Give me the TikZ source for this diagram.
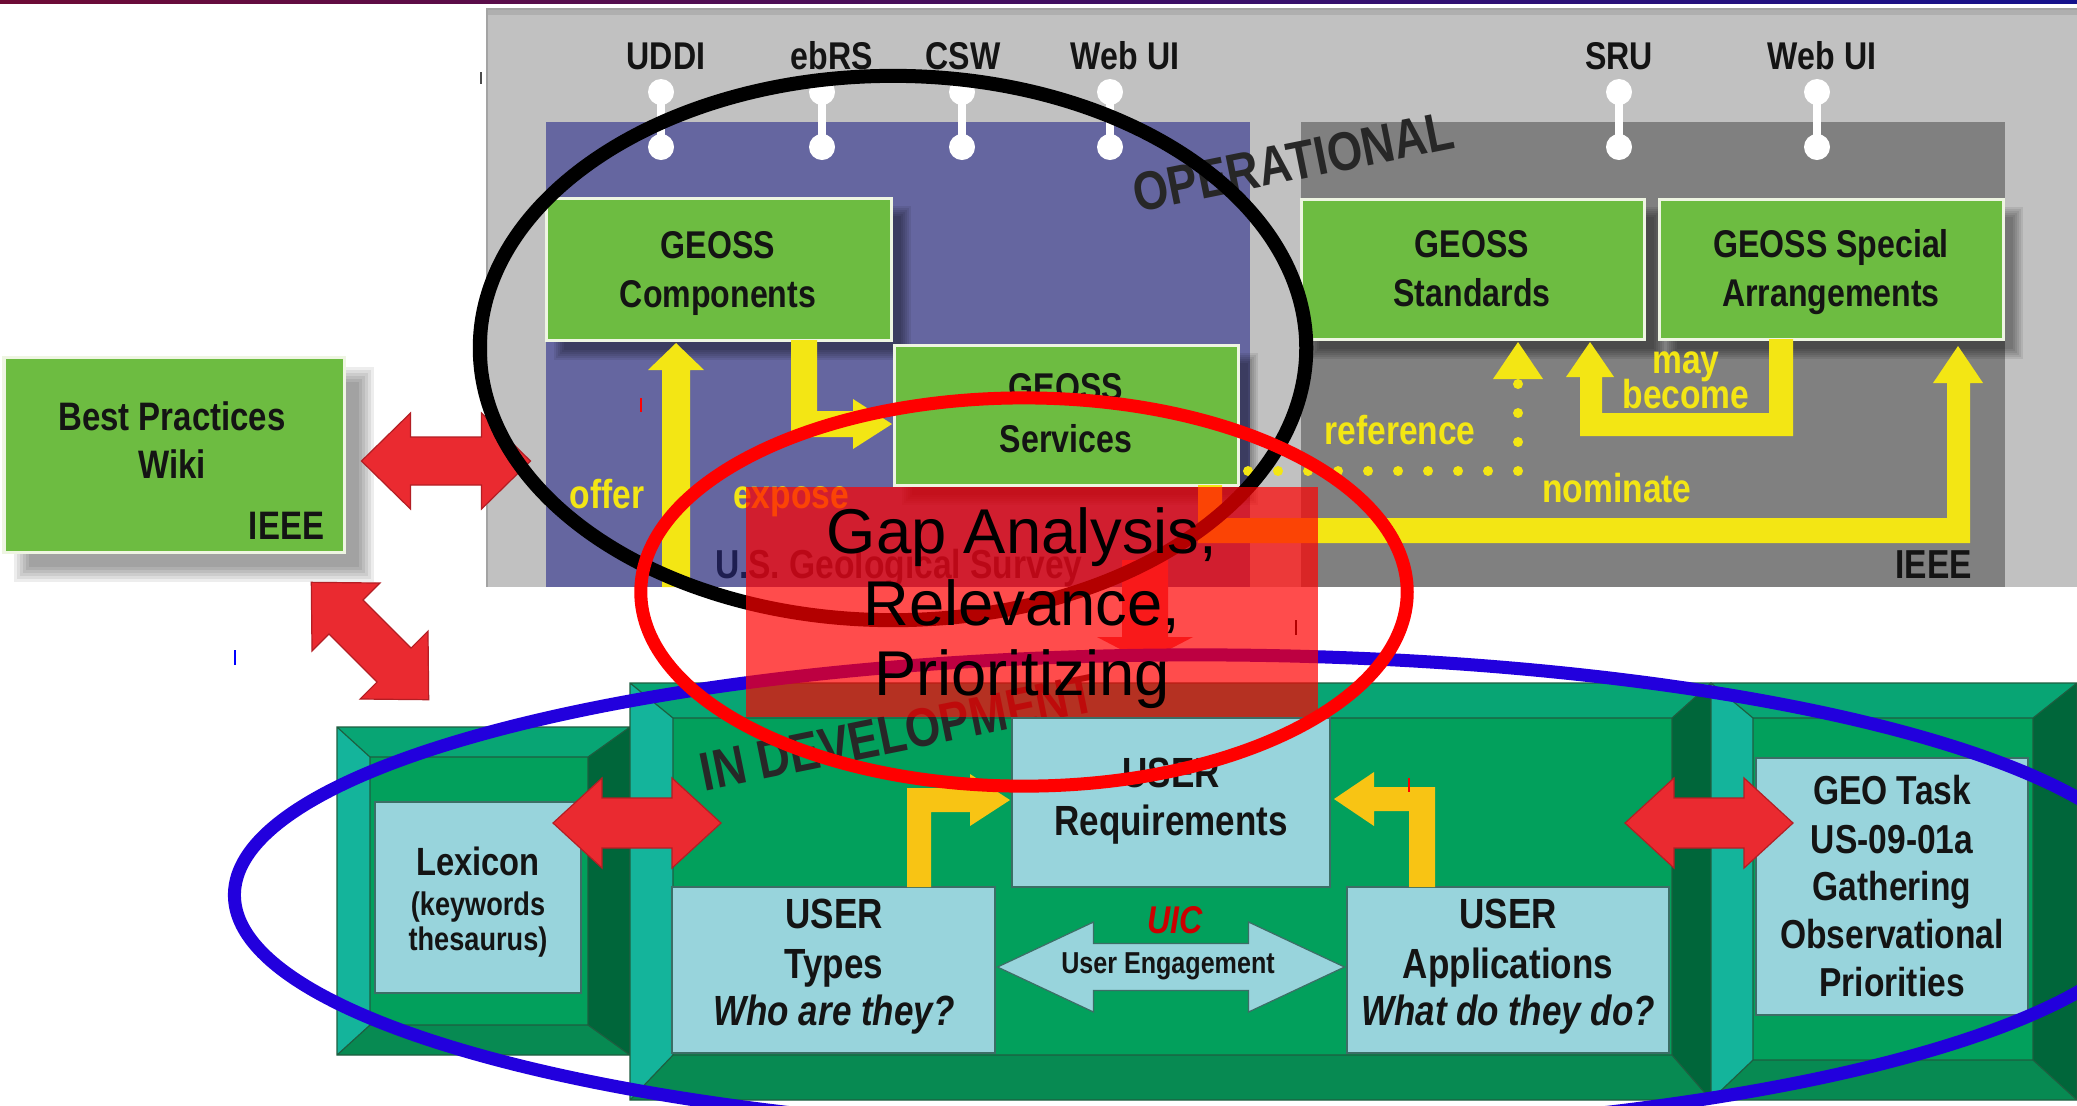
\documentclass[tikz,border=0pt]{standalone}
\usepackage{fontspec}
\setmainfont{Liberation Sans}
\newfontfamily\cnd[FakeStretch=0.83]{Liberation Sans}
\newcommand\fsz[1]{\fontsize{#1}{#1}\selectfont}
\definecolor{gry}{HTML}{C1C1C1}
\definecolor{gryline}{HTML}{A3A3A3}
\definecolor{purp}{HTML}{6566A0}
\definecolor{dgry}{HTML}{808080}
\definecolor{gbox}{HTML}{6DBC41}
\definecolor{gedge}{HTML}{EEF5E2}
\definecolor{yel}{HTML}{F3E614}
\definecolor{goldc}{HTML}{F8C414}
\definecolor{rarrow}{HTML}{EA2A30}
\definecolor{rline}{HTML}{B31E24}
\definecolor{lblue}{HTML}{98D4DC}
\definecolor{lbline}{HTML}{3C6E66}
\definecolor{tealc}{HTML}{14B49B}
\definecolor{gtop}{HTML}{08A574}
\definecolor{ginner}{HTML}{02A05C}
\definecolor{gdark}{HTML}{00663A}
\definecolor{gbot}{HTML}{078A52}
\definecolor{gline}{HTML}{1E5E40}
\definecolor{txt}{HTML}{141414}
\definecolor{navy}{HTML}{1E1E50}
\definecolor{blueell}{HTML}{2200DD}
\definecolor{barl}{HTML}{6E0B35}
\definecolor{barr}{HTML}{15118C}
\newcommand\softshadow[4]{\foreach \k in {0,...,5}{\fill[black,opacity=0.08] (#1+8+2*\k,#2+8+2*\k) rectangle (#3+20-2*\k,#4+20-2*\k);}}
\newcommand\greenbox[4]{\softshadow{#1}{#2}{#3}{#4}\filldraw[fill=gbox,draw=gedge,line width=0.03cm] (#1,#2) rectangle (#3,#4);}
% style, cx, cy, angle, L, head length, head half width, shaft half width
\newcommand\dblarr[8]{\filldraw[#1,shift={(#2,#3)},rotate=#4] (-#5/2,0) -- (-#5/2+#6,-#7) -- (-#5/2+#6,-#8) -- (#5/2-#6,-#8) -- (#5/2-#6,-#7) -- (#5/2,0) -- (#5/2-#6,#7) -- (#5/2-#6,#8) -- (-#5/2+#6,#8) -- (-#5/2+#6,#7) -- cycle;}
% x1 y1 x2 y2 l t r b
\newcommand\bevelblock[8]{%
\fill[ginner] (#1,#2) rectangle (#3,#4);
\fill[gtop] (#1,#2) -- (#3,#2) -- (#3-#7,#2+#6) -- (#1+#5,#2+#6) -- cycle;
\fill[gbot] (#1,#4) -- (#3,#4) -- (#3-#7,#4-#8) -- (#1+#5,#4-#8) -- cycle;
\fill[tealc] (#1,#2) -- (#1+#5,#2+#6) -- (#1+#5,#4-#8) -- (#1,#4) -- cycle;
\fill[gdark] (#3,#2) -- (#3-#7,#2+#6) -- (#3-#7,#4-#8) -- (#3,#4) -- cycle;
\draw[gline,line width=0.012cm] (#1,#2) rectangle (#3,#4) (#1+#5,#2+#6) rectangle (#3-#7,#4-#8)
 (#1,#2) -- (#1+#5,#2+#6) (#3,#2) -- (#3-#7,#2+#6) (#1,#4) -- (#1+#5,#4-#8) (#3,#4) -- (#3-#7,#4-#8);}
\begin{document}
\begin{tikzpicture}[x=0.01cm,y=-0.01cm,
  every node/.style={inner sep=0pt,outer sep=0pt},
  cb/.style={text=txt,anchor=base},
  toplbl/.style={cb,font=\cnd\bfseries\fsz{11}},
  boxt/.style={cb,font=\cnd\bfseries\fsz{11}},
  wikit/.style={cb,font=\cnd\bfseries\fsz{11.3}},
  ylbl/.style={cb,text=yel,font=\cnd\bfseries\fsz{11.5}},
  usert/.style={cb,font=\cnd\bfseries\fsz{12}},
  useri/.style={cb,font=\cnd\bfseries\itshape\fsz{12}},
  geot/.style={cb,font=\cnd\bfseries\fsz{11.5}},
  lext/.style={cb,font=\cnd\bfseries\fsz{11.2}},
  lexs/.style={cb,font=\cnd\bfseries\fsz{9.3}},
  bigrot/.style={cb,text=txt!92,font=\cnd\bfseries\fsz{15.5}},
  gapt/.style={anchor=base,text=black,font=\fsz{18}},
  redarr/.style={fill=rarrow,draw=rline,line width=0.012cm},
  bluearr/.style={fill=lblue,draw=lbline,line width=0.012cm},
  lbox/.style={fill=lblue,draw=lbline,line width=0.012cm},
  straymark/.style={line width=0.012cm}]
\useasboundingbox (0,0) rectangle (2077,1105);
\clip (0,0) rectangle (2077,1105);
\fill[white] (0,0) rectangle (2077,1105);
\shade[left color=barl,right color=barr] (0,0) rectangle (2077,3);

% ---------- OPERATIONAL panel ----------
\fill[gry] (487,9) rectangle (2077,587);
\fill[gryline!60!gry] (487,9) rectangle (2077,15);
\draw[gryline,line width=0.02cm] (487,587) -- (487,9) -- (2077,9);
\fill[purp] (546,122) rectangle (1250,587);
\fill[dgry] (1301,122) rectangle (2005,587);

% pins and labels
\foreach \px in {661,822,962,1110,1619,1817}{
  \draw[white,line width=0.08cm] (\px,92) -- (\px,147);
  \fill[white] (\px,92) circle[radius=0.13cm];
  \fill[white] (\px,147) circle[radius=0.13cm];}
\node[toplbl] (tUDDI) at (666,69) {UDDI};
\node[toplbl] (tebRS) at (832,69) {ebRS};
\node[toplbl] (tCSW) at (963,69) {CSW};
\node[toplbl] (tWeb1) at (1125,69) {Web UI};
\node[toplbl] (tSRU) at (1619,69) {SRU};
\node[toplbl] (tWeb2) at (1822,69) {Web UI};

% OPERATIONAL label
\node[bigrot,rotate=11.4] (opl) at (1297,180) {OPERATIONAL};

% green boxes
\greenbox{546}{198}{891}{340}
\greenbox{894}{345}{1238}{485}
\greenbox{1301}{199}{1644}{339}
\greenbox{1659}{199}{2003}{339}
\node[boxt] (compA) at (718,258) {GEOSS};
\node[boxt] (compB) at (718,307) {Components};
\node[boxt] (servA) at (1066,400) {GEOSS};
\node[boxt] (servB) at (1066,452) {Services};
\node[boxt] (stdA) at (1472,257) {GEOSS};
\node[boxt] (stdB) at (1472,306) {Standards};
\node[boxt] (spcA) at (1831,257) {GEOSS Special};
\node[boxt] (spcB) at (1831,306) {Arrangements};

% yellow arrows
\fill[yel] (662,587) -- (662,370) -- (648,370) -- (676,343) -- (704,370) -- (690,370) -- (690,587) -- cycle;
\fill[yel] (791,340) -- (817,340) -- (817,411) -- (853,411) -- (853,399) -- (892,424) -- (853,449) -- (853,437) -- (791,437) -- cycle;
\fill[yel] (1769,339) -- (1793,339) -- (1793,436) -- (1580,436) -- (1580,377) -- (1566,377) -- (1590,342) -- (1614,377) -- (1602,377) -- (1602,413) -- (1769,413) -- cycle;
\fill[yel] (1198,485) -- (1222,485) -- (1222,518) -- (1947,518) -- (1947,383) -- (1933,383) -- (1958,346) -- (1983,383) -- (1970,383) -- (1970,543) -- (1198,543) -- cycle;
\fill[yel] (1493,379) -- (1518,342) -- (1543,379) -- cycle;
\foreach \i in {0,...,9}{\fill[yel] (1248+30*\i,471) circle[radius=0.05cm];}
\foreach \j in {1,2,3}{\fill[yel] (1518,471-29*\j) circle[radius=0.05cm];}
\node[ylbl] (loffer) at (607,508) {offer};
\node[ylbl] (lexpose) at (791,508) {expose};
\node[ylbl] (lref) at (1400,444) {reference};
\node[ylbl] (lnom) at (1617,502) {nominate};
\node[ylbl] (lmay) at (1686,373) {may};
\node[ylbl] (lbec) at (1686,408) {become};
\node[cb,text=navy,font=\cnd\bfseries\fsz{11.5},anchor=base west] (usgs) at (715,578) {U.S. Geological Survey};
\node[cb,font=\cnd\bfseries\fsz{11.5},anchor=base east] (ieee2) at (1972,578) {IEEE};

% ---------- Best Practices Wiki ----------
\foreach \k in {0,...,5}{\fill[black,opacity=0.07] (4+10+3*\k,357+10+3*\k) rectangle (344+30-3*\k,552+30-3*\k);}
\filldraw[fill=gbox,draw=gedge,line width=0.03cm] (4,357) rectangle (344,552);
\node[wikit] (wikiA) at (172,430) {Best Practices};
\node[wikit] (wikiB) at (172,478) {Wiki};
\node[wikit,anchor=base east] (ieee1) at (324,539) {IEEE};
\dblarr{redarr}{446}{461}{0}{169}{49}{48}{24}
\dblarr{redarr}{370}{641}{-45}{166}{49}{48}{24}

% ---------- IN DEVELOPMENT ----------
\bevelblock{337}{727}{630}{1055}{33}{30}{42}{30}
\bevelblock{630}{683}{1711}{1100}{43}{35}{39}{45}
\bevelblock{1711}{683}{2077}{1100}{42}{35}{44}{40}
\node[bigrot,rotate=11.5] (indev) at (902,751) {IN DEVELOPMENT};
\filldraw[lbox] (375,802) rectangle (581,993);
\filldraw[lbox] (1012,718) rectangle (1330,887);
\filldraw[lbox] (672,887) rectangle (995,1053);
\filldraw[lbox] (1347,887) rectangle (1669,1053);
\filldraw[lbox] (1756,758) rectangle (2028,1015);
\node[lext] (lexA) at (478,875) {Lexicon};
\node[lexs] (lexB) at (478,915) {(keywords};
\node[lexs] (lexC) at (478,950) {thesaurus)};
\node[usert] (reqA) at (1171,787) {USER};
\node[usert] (reqB) at (1171,835) {Requirements};
\node[usert] (typA) at (834,928) {USER};
\node[usert] (typB) at (834,978) {Types};
\node[useri] (typC) at (834,1025) {Who are they?};
\node[usert] (appA) at (1508,928) {USER};
\node[usert] (appB) at (1508,978) {Applications};
\node[useri] (appC) at (1508,1025) {What do they do?};
\node[geot] (geoA) at (1892,804) {GEO Task};
\node[geot] (geoB) at (1892,853) {US-09-01a};
\node[geot] (geoC) at (1892,900) {Gathering};
\node[geot] (geoD) at (1892,948) {Observational};
\node[geot] (geoE) at (1892,996) {Priorities};
\fill[goldc] (907,887) -- (907,788) -- (970,788) -- (970,774) -- (1010,800) -- (970,826) -- (970,812) -- (931,812) -- (931,887) -- cycle;
\fill[goldc] (1435,887) -- (1435,787) -- (1374,787) -- (1374,772) -- (1334,799) -- (1374,826) -- (1374,811) -- (1409,811) -- (1409,887) -- cycle;
\dblarr{bluearr}{1171}{967}{0}{347}{96}{45}{23.5}
\node[cb,text=red!80!black,font=\cnd\bfseries\itshape\fsz{11}] (uic) at (1175,933) {UIC};
\node[cb,font=\cnd\bfseries\fsz{8.6}] (ueng) at (1168,973) {User Engagement};
\dblarr{redarr}{637}{823}{0}{168}{49}{45}{25}
\dblarr{redarr}{1709}{823}{0}{168}{49}{45}{25}

% red arrow partly hidden under the overlay
\fill[rarrow!80!white] (1122,560) -- (1168,560) -- (1168,637) -- (1193,637) -- (1145,662) -- (1097,637) -- (1122,637) -- cycle;

% ---------- annotation ellipses and overlay ----------
\draw[black,line width=0.14cm] (893,348) ellipse[x radius=4.13cm,y radius=2.72cm];
\draw[blueell,line width=0.13cm] (1197,895) ellipse[x radius=9.62cm,y radius=2.40cm];
\fill[red,opacity=0.7] (746,487) rectangle (1318,717);
\node[gapt] (gapA) at (1022,553) {Gap Analysis,};
\node[gapt] (gapB) at (1022,625) {Relevance,};
\node[gapt] (gapC) at (1022,695) {Prioritizing};
\draw[red,line width=0.13cm] (1024,592) ellipse[x radius=3.83cm,y radius=1.94cm];

% small stray marks
\draw[straymark,black!70] (481,72) -- (481,84);
\draw[straymark,red] (641,398) -- (641,412);
\draw[straymark,blue] (235,650) -- (235,665);
\draw[straymark,red!70!black] (1296,620) -- (1296,635);
\draw[straymark,red] (1409,778) -- (1409,792);
\end{tikzpicture}
\end{document}
